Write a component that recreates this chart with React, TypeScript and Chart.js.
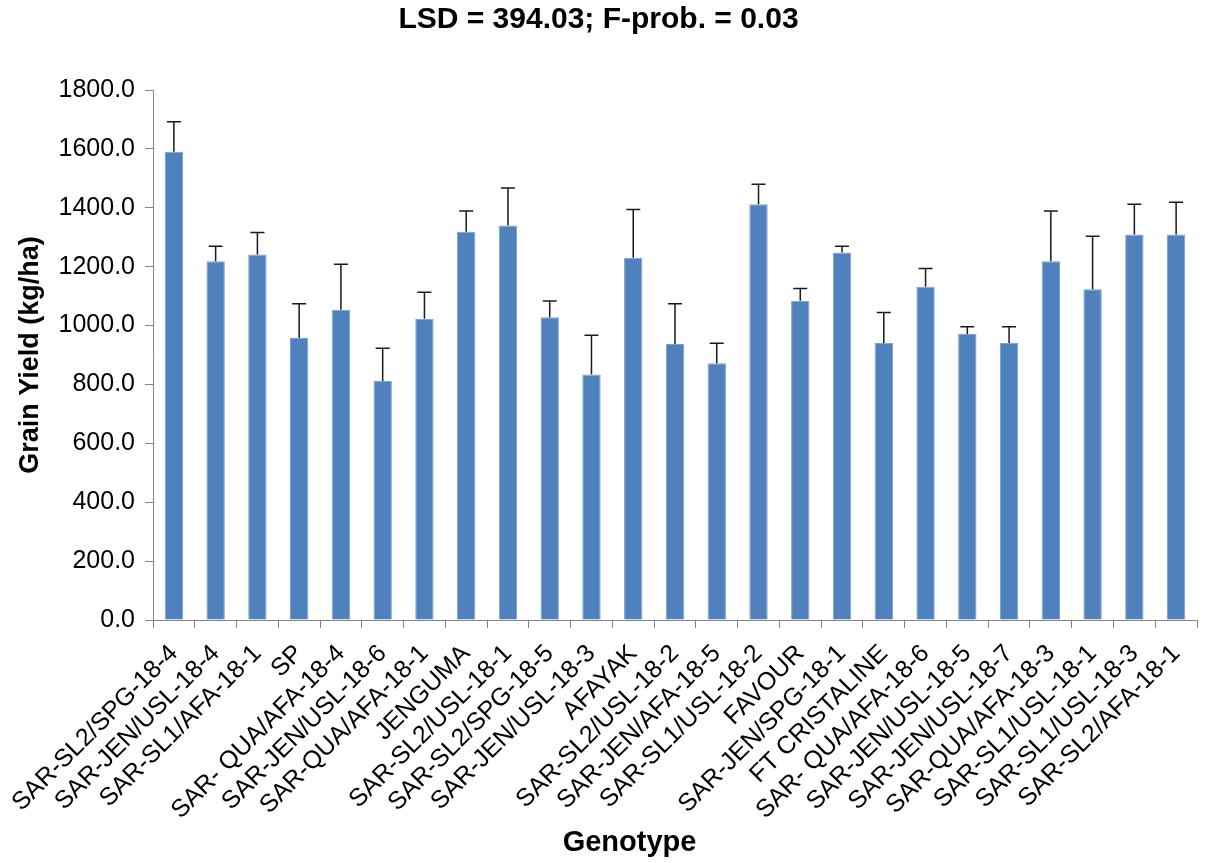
import React, { useEffect, useRef } from "react";
import { Chart, registerables } from "chart.js";

Chart.register(...registerables);

const genotypes: string[] = [
  "SAR-SL2/SPG-18-4",
  "SAR-JEN/USL-18-4",
  "SAR-SL1/AFA-18-1",
  "SP",
  "SAR- QUA/AFA-18-4",
  "SAR-JEN/USL-18-6",
  "SAR-QUA/AFA-18-1",
  "JENGUMA",
  "SAR-SL2/USL-18-1",
  "SAR-SL2/SPG-18-5",
  "SAR-JEN/USL-18-3",
  "AFAYAK",
  "SAR-SL2/USL-18-2",
  "SAR-JEN/AFA-18-5",
  "SAR-SL1/USL-18-2",
  "FAVOUR",
  "SAR-JEN/SPG-18-1",
  "FT CRISTALINE",
  "SAR- QUA/AFA-18-6",
  "SAR-JEN/USL-18-5",
  "SAR-JEN/USL-18-7",
  "SAR-QUA/AFA-18-3",
  "SAR-SL1/USL-18-1",
  "SAR-SL1/USL-18-3",
  "SAR-SL2/AFA-18-1",
];

const grainYield: number[] = [
  1590, 1218, 1241, 958, 1054, 812, 1023, 1319, 1340, 1028, 834, 1230, 937,
  872, 1412, 1084, 1248, 941, 1132, 971, 941, 1218, 1123, 1309, 1309,
];

const errorUpper: number[] = [
  102, 51, 75, 116, 154, 111, 90, 70, 127, 55, 133, 164, 137, 68, 68, 42, 21,
  103, 62, 25, 55, 171, 180, 103, 110,
];

const titleText = "LSD = 394.03; F-prob. = 0.03";
const yAxisTitle = "Grain Yield (kg/ha)";
const xAxisTitle = "Genotype";

const FONT = "'Liberation Sans', Arial, sans-serif";
const AXIS_GREY = "#868686";

const errorBarPlugin = {
  id: "errorBars",
  afterDatasetsDraw(chart: any) {
    const meta = chart.getDatasetMeta(0);
    const yScale = chart.scales.y;
    const ctx = chart.ctx;
    ctx.save();
    ctx.strokeStyle = "#1a1a1a";
    ctx.lineWidth = 1.5;
    meta.data.forEach((bar: any, i: number) => {
      const v = grainYield[i];
      const e = errorUpper[i];
      const x = bar.x;
      const yTop = yScale.getPixelForValue(v + e);
      const yBase = yScale.getPixelForValue(v);
      ctx.beginPath();
      ctx.moveTo(x, yBase);
      ctx.lineTo(x, yTop);
      ctx.moveTo(x - 7, yTop);
      ctx.lineTo(x + 7, yTop);
      ctx.stroke();
    });
    ctx.restore();
  },
};

const xTitlePlugin = {
  id: "xAxisTitle",
  afterDraw(chart: any) {
    const ctx = chart.ctx;
    ctx.save();
    ctx.fillStyle = "#000";
    ctx.font = `bold 29px ${FONT}`;
    ctx.textAlign = "center";
    ctx.textBaseline = "middle";
    ctx.fillText(xAxisTitle, chart.width / 2 + 24, 843);
    ctx.restore();
  },
};

export default function App() {
  const canvasRef = useRef<HTMLCanvasElement | null>(null);

  useEffect(() => {
    document.body.style.margin = "0";
    const canvas = canvasRef.current;
    if (!canvas) return;
    const chart = new Chart(canvas, {
      type: "bar",
      data: {
        labels: genotypes,
        datasets: [
          {
            data: grainYield,
            backgroundColor: "#4F81BD",
            borderColor: "#7BA0D0",
            borderWidth: 1,
            barPercentage: 0.44,
            categoryPercentage: 1,
          },
        ],
      },
      options: {
        animation: false,
        responsive: false,
        maintainAspectRatio: false,
        layout: { padding: { left: 0, right: 14, top: 0, bottom: 0 } },
        plugins: {
          legend: { display: false },
          tooltip: { enabled: false },
          title: {
            display: true,
            text: titleText,
            color: "#000",
            font: { family: FONT, size: 30, weight: "bold" },
            padding: { top: 2, bottom: 52 },
          },
        },
        scales: {
          x: {
            offset: true,
            afterFit: (scale: any) => {
              scale.height = 243;
            },
            grid: {
              display: true,
              offset: true,
              drawOnChartArea: false,
              drawTicks: true,
              tickLength: 8,
              color: AXIS_GREY,
            },
            border: { display: true, color: AXIS_GREY, width: 1 },
            ticks: {
              autoSkip: false,
              maxRotation: 45,
              minRotation: 45,
              color: "#000",
              padding: 11,
              font: { family: FONT, size: 25 },
            },
            title: { display: false },
          },
          y: {
            min: 0,
            max: 1800,
            afterFit: (scale: any) => {
              scale.width = 153;
            },
            grid: {
              display: true,
              drawOnChartArea: false,
              drawTicks: true,
              tickLength: 8,
              color: AXIS_GREY,
            },
            border: { display: true, color: AXIS_GREY, width: 1 },
            ticks: {
              stepSize: 200,
              color: "#000",
              padding: 10,
              font: { family: FONT, size: 25 },
              callback: (v: any) => Number(v).toFixed(1),
            },
            title: {
              display: true,
              text: yAxisTitle,
              color: "#000",
              font: { family: FONT, size: 27, weight: "bold" },
              padding: { top: 14, bottom: 0 },
            },
          },
        },
      },
      plugins: [errorBarPlugin, xTitlePlugin],
    });
    return () => chart.destroy();
  }, []);

  return (
    <div style={{ width: 1211, height: 863, background: "#fff" }}>
      <canvas ref={canvasRef} width={1211} height={863} style={{ display: "block" }} />
    </div>
  );
}
